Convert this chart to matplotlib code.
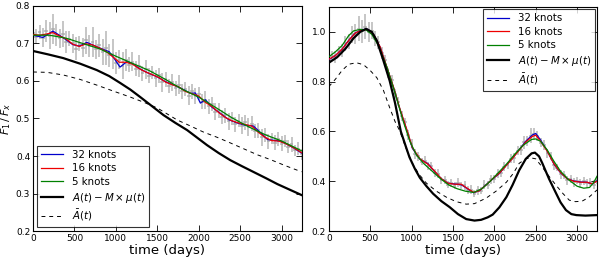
import numpy as np
import matplotlib
matplotlib.use("Agg")
import matplotlib.pyplot as plt

# ---------------- Left panel data ----------------
left_data = [.728, .718, .730, .715, .733, .721, .738, .722, .714, .726,
             .704, .713, .700, .686, .699, .689, .708, .693, .703, .684,
             .695, .678, .688, .668, .673, .648, .657, .641, .656, .643,
             .651, .632, .640, .621, .631, .614, .623, .607, .615, .596,
             .604, .587, .596, .581, .590, .572, .578, .561, .572, .560,
             .566, .545, .549, .532, .538, .518, .522, .504, .509, .492,
             .500, .485, .494, .481, .490, .477, .486, .467, .469, .450,
             .456, .439, .447, .435, .446, .433, .440, .425, .431, .415,
             .420, .405]
left_err = [.015, .02, .018, .025, .03, .035, .04, .03, .025, .035,
            .03, .02, .025, .03, .02, .025, .035, .03, .04, .025,
            .03, .035, .045, .03, .04, .03, .025, .035, .03, .02,
            .025, .02, .03, .02, .025, .02, .018, .022, .02, .025,
            .02, .018, .022, .02, .025, .02, .018, .025, .02, .022,
            .018, .02, .025, .02, .018, .022, .02, .018, .02, .022,
            .018, .02, .018, .022, .02, .025, .02, .018, .02, .022,
            .018, .02, .015, .02, .018, .02, .015, .018, .02, .015,
            .018, .015]

l32_t = [0, 120, 240, 360, 480, 560, 650, 760, 850, 920, 980, 1050, 1135, 1200,
         1300, 1400, 1500, 1600, 1700, 1800, 1900, 1960, 2020, 2080, 2160, 2260,
         2360, 2465, 2560, 2660, 2745, 2830, 2900, 2980, 3060, 3150, 3240]
l32_v = [.722, .716, .733, .716, .697, .693, .703, .692, .684, .678, .660, .637,
         .652, .646, .631, .620, .611, .598, .589, .579, .567, .568, .541, .550,
         .530, .514, .497, .488, .482, .480, .462, .444, .442, .440, .432, .421, .408]

l16_t = [0, 80, 160, 240, 320, 400, 480, 560, 640, 720, 800, 880, 960, 1040,
         1120, 1200, 1280, 1360, 1440, 1520, 1600, 1680, 1760, 1840, 1920, 2000,
         2080, 2160, 2240, 2320, 2400, 2480, 2560, 2640, 2720, 2800, 2880, 2960,
         3040, 3120, 3200, 3240]
l16_v = [.724, .722, .725, .729, .720, .712, .698, .692, .699, .696, .688, .679,
         .665, .650, .650, .645, .633, .624, .617, .609, .597, .590, .584, .572,
         .566, .560, .543, .532, .516, .503, .494, .488, .484, .480, .463, .450,
         .441, .440, .434, .425, .415, .409]

l5_t = [0, 200, 400, 600, 800, 1000, 1200, 1400, 1600, 1800, 2000, 2200, 2400,
        2600, 2800, 3000, 3240]
l5_v = [.722, .722, .714, .700, .686, .666, .647, .628, .604, .578, .557, .530,
        .502, .478, .457, .440, .414]

lA_t = [0, 180, 365, 570, 770, 920, 1050, 1175, 1295, 1435, 1575, 1720, 1860,
        1980, 2100, 2240, 2380, 2520, 2665, 2810, 2950, 3100, 3240]
lA_v = [.680, .671, .661, .646, .629, .613, .595, .577, .557, .533, .509, .488,
        .469, .449, .429, .408, .389, .373, .357, .341, .325, .310, .296]

lAbar_t = [0, 170, 365, 570, 770, 970, 1175, 1340, 1500, 1620, 1740, 1900, 2055,
           2220, 2380, 2545, 2710, 2870, 3025, 3130, 3240]
lAbar_v = [.624, .623, .616, .604, .589, .573, .557, .543, .528, .512, .496, .480,
           .464, .450, .435, .419, .403, .390, .376, .367, .358]

# ---------------- Right panel data ----------------
right_data = [.884, .902, .899, .925, .926, .955, .960, .990, .991, 1.012,
              1.002, 1.020, 1.001, 1.005, .972, .958, .915, .887, .834, .806,
              .751, .719, .661, .636, .584, .551, .509, .500, .479, .483,
              .462, .460, .434, .430, .404, .405, .386, .393, .382, .394,
              .383, .384, .364, .365, .350, .363, .362, .385, .385, .407,
              .409, .431, .432, .459, .464, .490, .494, .523, .527, .556,
              .560, .582, .589, .583, .554, .546, .513, .502, .465, .455,
              .429, .426, .404, .409, .395, .402, .390, .401, .391, .397,
              .385, .403]
right_err = [.02, .02, .025, .02, .025, .03, .03, .035, .04, .05,
             .045, .05, .04, .035, .03, .025, .025, .02, .02, .02,
             .02, .018, .02, .018, .02, .018, .02, .018, .015, .018,
             .015, .018, .015, .018, .015, .018, .015, .018, .015, .018,
             .015, .018, .015, .018, .015, .018, .015, .018, .015, .018,
             .015, .018, .015, .018, .015, .018, .02, .018, .02, .025,
             .02, .03, .025, .02, .018, .02, .018, .015, .018, .015,
             .018, .015, .018, .015, .018, .015, .018, .015, .018, .015,
             .018, .015]

r32_t = [0, 80, 160, 240, 320, 400, 470, 540, 620, 700, 780, 860, 940, 1010,
         1100, 1200, 1280, 1360, 1440, 1520, 1600, 1680, 1750, 1820, 1900, 1980,
         2060, 2140, 2220, 2300, 2380, 2460, 2500, 2560, 2640, 2720, 2800, 2880,
         2960, 3040, 3120, 3180, 3240]
r32_v = [.888, .905, .930, .966, .996, 1.009, 1.011, .989, .939, .858, .778,
         .688, .608, .532, .489, .470, .438, .410, .392, .389, .386, .369, .354,
         .362, .386, .409, .431, .463, .493, .527, .561, .586, .592, .565, .521,
         .469, .434, .410, .401, .397, .396, .389, .402]

r16_t = [0, 80, 160, 240, 320, 400, 470, 540, 620, 700, 780, 860, 940, 1010,
         1100, 1200, 1280, 1360, 1440, 1520, 1600, 1680, 1750, 1820, 1900, 1980,
         2060, 2140, 2220, 2300, 2380, 2460, 2500, 2560, 2640, 2720, 2800, 2880,
         2960, 3040, 3120, 3180, 3240]
r16_v = [.890, .905, .930, .965, .995, 1.008, 1.010, .990, .940, .860, .780,
         .690, .610, .535, .490, .468, .440, .410, .392, .388, .388, .370, .355,
         .362, .385, .410, .432, .462, .492, .525, .558, .580, .585, .560, .520,
         .470, .435, .410, .400, .396, .396, .390, .400]

r5_t = [0, 80, 160, 240, 300, 380, 450, 520, 600, 700, 800, 900, 980, 1060,
        1150, 1250, 1350, 1450, 1550, 1650, 1750, 1850, 1950, 2050, 2150, 2250,
        2350, 2450, 2500, 2560, 2640, 2720, 2800, 2900, 3000, 3080, 3150, 3200, 3240]
r5_v = [.900, .920, .945, .985, 1.004, 1.010, 1.008, .990, .945, .860, .755,
        .640, .560, .505, .470, .440, .410, .385, .370, .360, .355, .370, .400,
        .435, .470, .510, .545, .568, .570, .560, .525, .480, .440, .405, .380,
        .372, .375, .395, .420]

rA_t = [0, 100, 200, 300, 380, 450, 520, 580, 650, 735, 800, 870, 930, 975,
        1040, 1100, 1180, 1260, 1360, 1460, 1560, 1660, 1760, 1840, 1920, 1980,
        2060, 2145, 2220, 2300, 2380, 2450, 2490, 2540, 2580, 2660, 2745, 2800,
        2865, 2930, 2990, 3100, 3240]
rA_v = [.876, .898, .932, .975, 1.000, 1.012, 1.000, .965, .895, .804, .715,
        .600, .540, .496, .450, .414, .380, .350, .320, .296, .268, .248, .242,
        .245, .255, .266, .295, .336, .385, .444, .490, .512, .515, .500, .472,
        .410, .352, .315, .284, .268, .264, .262, .264]

rAbar_t = [0, 80, 160, 240, 335, 420, 500, 580, 660, 735, 800, 855, 930, 1010,
           1090, 1180, 1300, 1420, 1540, 1660, 1760, 1900, 2020, 2145, 2230, 2300,
           2380, 2440, 2500, 2580, 2660, 2745, 2830, 2905, 2980, 3060, 3140, 3240]
rAbar_v = [.780, .810, .845, .870, .876, .868, .845, .816, .765, .696, .640,
           .604, .535, .472, .428, .392, .360, .336, .318, .308, .310, .332, .360,
           .396, .432, .472, .490, .494, .490, .456, .420, .384, .350, .324, .318,
           .320, .335, .365]

labels = ["32 knots", "16 knots", "5 knots",
          r"$A(t) - M\times\mu(t)$", r"$\bar{A}(t)$"]
xticks = [0, 500, 1000, 1500, 2000, 2500, 3000]
xmax = 3240

fig = plt.figure(figsize=(6.0, 2.59), dpi=100)
axL = fig.add_axes([0.055, 0.108, 0.4475, 0.869])
axR = fig.add_axes([0.548, 0.108, 0.447, 0.865])


def draw(ax, data, err, c32, c16, c5, cA, cAbar):
    td = np.linspace(0, xmax, len(data))
    ax.errorbar(td, data, yerr=err, xerr=22, fmt='none', ecolor='#a0a0a0',
                elinewidth=1.4, alpha=0.6, zorder=1)
    h1, = ax.plot(*c32, color='#0000cc', lw=0.9, zorder=3)
    h2, = ax.plot(*c16, color='#ee0000', lw=0.9, zorder=4)
    h3, = ax.plot(*c5, color='#008000', lw=0.9, zorder=5)
    h4, = ax.plot(*cA, color='black', lw=1.6, zorder=6)
    h5, = ax.plot(*cAbar, color='black', lw=0.7, ls=(0, (4, 4)), zorder=6)
    ax.set_xlim(0, xmax)
    ax.set_xticks(xticks)
    ax.set_xticklabels([str(v) for v in xticks])
    ax.tick_params(direction='in', top=True, right=True, labelsize=6.5,
                   length=4, width=0.6, pad=2)
    for s in ax.spines.values():
        s.set_linewidth(0.8)
    ax.set_xlabel("time (days)", fontsize=9.5, labelpad=1)
    return [h1, h2, h3, h4, h5]


hL = draw(axL, left_data, left_err, (l32_t, l32_v), (l16_t, l16_v), (l5_t, l5_v),
          (lA_t, lA_v), (lAbar_t, lAbar_v))
axL.set_ylim(0.2, 0.8)
axL.set_yticks([0.2, 0.3, 0.4, 0.5, 0.6, 0.7, 0.8])
axL.set_ylabel(r"$F_1\,/\,F_x$", fontsize=8, labelpad=2)
legL = axL.legend(hL, labels, loc='lower left', fontsize=7.4, frameon=True,
                  fancybox=False, edgecolor='black', borderaxespad=0.35,
                  handlelength=2.2, labelspacing=0.35, borderpad=0.4)
legL.get_frame().set_linewidth(0.8)

hR = draw(axR, right_data, right_err, (r32_t, r32_v), (r16_t, r16_v), (r5_t, r5_v),
          (rA_t, rA_v), (rAbar_t, rAbar_v))
axR.set_ylim(0.2, 1.1)
axR.set_yticks([0.2, 0.4, 0.6, 0.8, 1.0])
legR = axR.legend(hR, labels, loc='upper right', fontsize=7.4, frameon=True,
                  fancybox=False, edgecolor='black', borderaxespad=0.2,
                  handlelength=2.2, labelspacing=0.35, borderpad=0.4)
legR.get_frame().set_linewidth(0.8)

fig.savefig("out.png", dpi=100)
